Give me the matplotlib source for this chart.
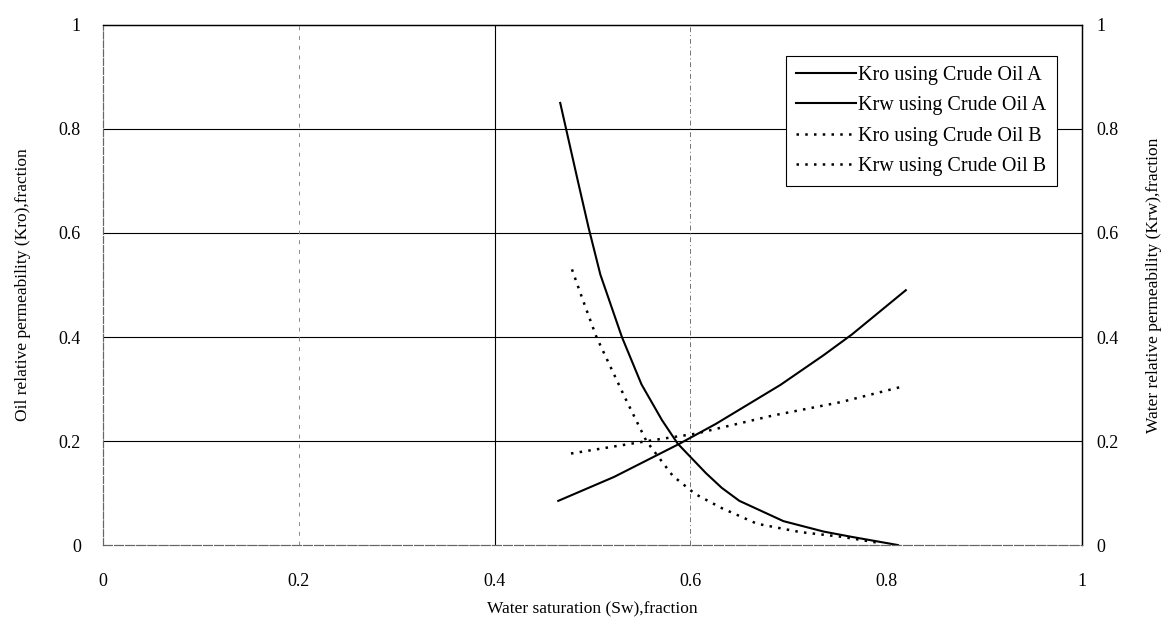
import matplotlib
matplotlib.use("Agg")
import matplotlib.pyplot as plt

plt.rcParams['font.family'] = ['Liberation Serif', 'DejaVu Serif']

# Crude Oil A
sw_kro_a = [0.467, 0.485, 0.496, 0.508, 0.530, 0.550, 0.571, 0.587, 0.616, 0.632, 0.650, 0.695, 0.736, 0.764, 0.812]
kro_a = [0.85, 0.70, 0.61, 0.52, 0.40, 0.309, 0.24, 0.195, 0.138, 0.11, 0.085, 0.046, 0.026, 0.016, 0.0]
sw_krw_a = [0.465, 0.522, 0.588, 0.626, 0.692, 0.736, 0.765, 0.820]
krw_a = [0.085, 0.131, 0.194, 0.233, 0.308, 0.365, 0.405, 0.49]

# Crude Oil B
sw_kro_b = [0.479, 0.489, 0.504, 0.533, 0.555, 0.582, 0.605, 0.632, 0.668, 0.712, 0.754, 0.790]
kro_b = [0.53, 0.477, 0.40, 0.284, 0.20, 0.133, 0.098, 0.071, 0.041, 0.025, 0.016, 0.005]
sw_krw_b = [0.478, 0.556, 0.605, 0.684, 0.754, 0.815]
krw_b = [0.176, 0.20, 0.214, 0.249, 0.275, 0.304]

ticks = [0, 0.2, 0.4, 0.6, 0.8, 1]
tick_labels = ['0', '0.2', '0.4', '0.6', '0.8', '1']

fig = plt.figure(figsize=(11.76, 6.39), dpi=100)
ax = fig.add_axes([0.0876, 0.147, 0.8325, 0.814])
ax2 = ax.twinx()

dots = (0, (1, 2.5))
l1, = ax.plot(sw_kro_a, kro_a, color='black', lw=1.5, label='Kro using Crude Oil A')
l2, = ax2.plot(sw_krw_a, krw_a, color='black', lw=1.5, label='Krw using Crude Oil A')
l3, = ax.plot(sw_kro_b, kro_b, color='black', lw=1.8, ls=dots, label='Kro using Crude Oil B')
l4, = ax2.plot(sw_krw_b, krw_b, color='black', lw=1.8, ls=dots, label='Krw using Crude Oil B')

for a in (ax, ax2):
    a.set_xlim(0, 1)
    a.set_ylim(0, 1)
    a.set_yticks(ticks)
    a.set_yticklabels(tick_labels)

ax.set_xticks(ticks)
ax.set_xticklabels(tick_labels)
ax.tick_params(axis='both', length=0, labelsize=13)
ax.tick_params(axis='x', pad=20)
ax.tick_params(axis='y', pad=16)
ax2.tick_params(axis='y', length=0, labelsize=13, pad=10)

# grid
for y in [0.2, 0.4, 0.6, 0.8]:
    ax.axhline(y, color='black', lw=0.8, zorder=0)
ax.axvline(0.2, color='0.55', lw=0.7, ls=(0, (4, 6)), zorder=0)
ax.axvline(0.4, color='black', lw=0.8, zorder=0)
ax.axvline(0.6, color='0.45', lw=0.7, ls=(0, (5, 3, 1, 3)), zorder=0)

for a in (ax, ax2):
    a.spines['top'].set_linewidth(0.9)
    a.spines['right'].set_linewidth(0.9)
    a.spines['left'].set_color('0.4')
    a.spines['left'].set_linestyle((0, (6, 2)))
    a.spines['bottom'].set_color('0.4')
    a.spines['bottom'].set_linestyle((0, (8, 2)))

ax.set_xlabel('Water saturation (Sw),fraction', fontsize=12.5, labelpad=8)
ax.set_ylabel('Oil relative permeability (Kro),fraction', fontsize=12.5, labelpad=20)
ax2.set_ylabel('Water relative permeability (Krw),fraction', fontsize=12.5, labelpad=20)

leg = ax2.legend(handles=[l1, l2, l3, l4], loc='upper right', bbox_to_anchor=(0.974, 0.94),
                 fontsize=14.5, frameon=True, fancybox=False, handlelength=3.0,
                 handletextpad=0.1, borderpad=0.5, labelspacing=0.55, borderaxespad=0)
leg.get_frame().set_edgecolor('black')
leg.get_frame().set_linewidth(0.8)
leg.get_frame().set_facecolor('white')
leg.get_frame().set_alpha(1)

fig.savefig('out.png', dpi=100)
